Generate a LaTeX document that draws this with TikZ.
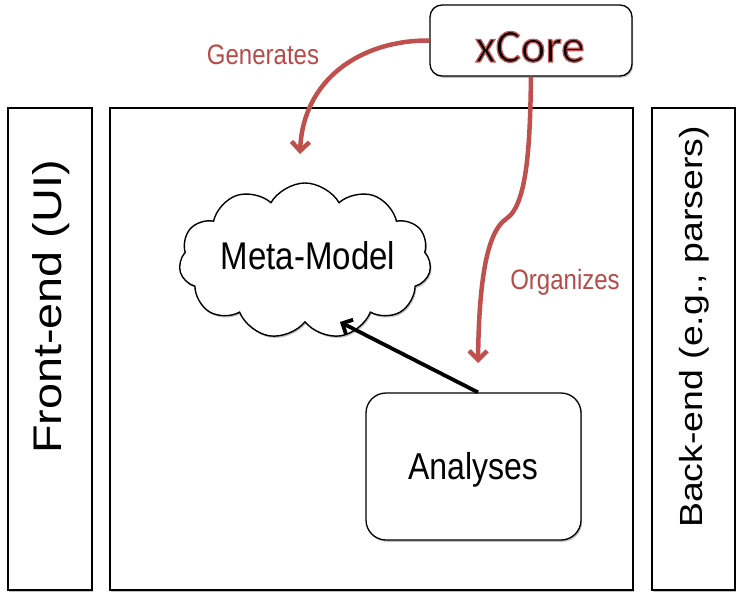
\documentclass[tikz,border=0pt]{standalone}
\usepackage{fontspec}
\setmainfont{Liberation Sans}
\newfontfamily\corefont{Carlito}
\usepackage{graphicx}
\usetikzlibrary{shapes.symbols,shadows,arrows.meta}
\definecolor{arrred}{HTML}{C0504D}
\definecolor{lblred}{HTML}{B84A4A}
\newcommand{\vsz}[2]{\scalebox{1}[1.17]{\fontsize{#1}{#1}\selectfont #2}}
\newcommand{\hsz}[2]{\scalebox{1.17}[1]{\fontsize{#1}{#1}\selectfont #2}}
\newcommand{\outlined}[1]{\special{pdf:code 2 Tr 1.3 w 0.78 0.33 0.32 RG}#1\special{pdf:code 0 Tr}}
\begin{document}
\begin{tikzpicture}[x=1pt,y=-1pt,
  shad/.style={drop shadow={shadow xshift=1.2pt,shadow yshift=-1.8pt,opacity=0.4,fill=black!60}},
  panel/.style={draw=black,line width=1.3pt,fill=white,shad,inner sep=0pt},
  rbox/.style={panel,rounded corners=14pt},
  redarrow/.style={draw=arrred,line width=4.5pt,-{Straight Barb[length=9pt,width=18pt]}},
  blkarrow/.style={draw=black,line width=3.8pt,-{Straight Barb[length=8pt,width=16pt]}},
  lbl/.style={text=lblred,inner sep=0pt}
]
\useasboundingbox (0,0) rectangle (743,602);
\fill[white] (0,0) rectangle (743,602);
\node[panel,minimum width=84pt,minimum height=482pt] (front) at (50,349) {};
\node[panel,minimum width=523pt,minimum height=482pt] (main) at (371.5,349) {};
\node[panel,minimum width=83pt,minimum height=482pt] (back) at (693.5,349) {};
\node[rotate=90,inner sep=0pt] (fronttxt) at (51,307) {\hsz{40}{Front-end (UI)}};
\node[rotate=90,inner sep=0pt] (backtxt) at (694,327) {\hsz{32}{Back-end (e.g., parsers)}};

\node[cloud,draw=black,line width=1.4pt,fill=white,shad,cloud puffs=11,cloud puff arc=120,
      minimum width=252pt,minimum height=156pt,inner sep=0pt] (meta) at (305,261) {};
\node[inner sep=0pt] (metatxt) at (308,256) {\vsz{33}{Meta-Model}};

\node[rbox,rounded corners=20pt,minimum width=215pt,minimum height=147pt] (ana) at (473.5,466.5) {};
\node[inner sep=0pt] (anatxt) at (473,470) {\vsz{32}{Analyses}};

\node[rbox,rounded corners=12pt,minimum width=202pt,minimum height=71pt] (xcore) at (531,40.5) {};
\node[inner sep=0pt,anchor=base] (xcoretxt) at (530,62) {\corefont\fontsize{47}{47}\selectfont\outlined{xCore}};

\node[lbl] (gen) at (263,55) {\vsz{24}{Generates}};
\node[lbl] (org) at (565,282) {\vsz{24}{Organizes}};

\coordinate (genend) at (300,154);
\coordinate (orgend) at (478,363);
\coordinate (metaend) at (340,322);

\draw[redarrow] (xcore.west) .. controls (360,40) and (303,80) .. (genend);
\draw[redarrow] (xcore.south) .. controls (530,140) and (528,205) .. (506,219)
   .. controls (487,232) and (479,280) .. (orgend);
\draw[blkarrow] ([xshift=4.5pt]ana.north) -- (metaend);
\end{tikzpicture}
\end{document}
